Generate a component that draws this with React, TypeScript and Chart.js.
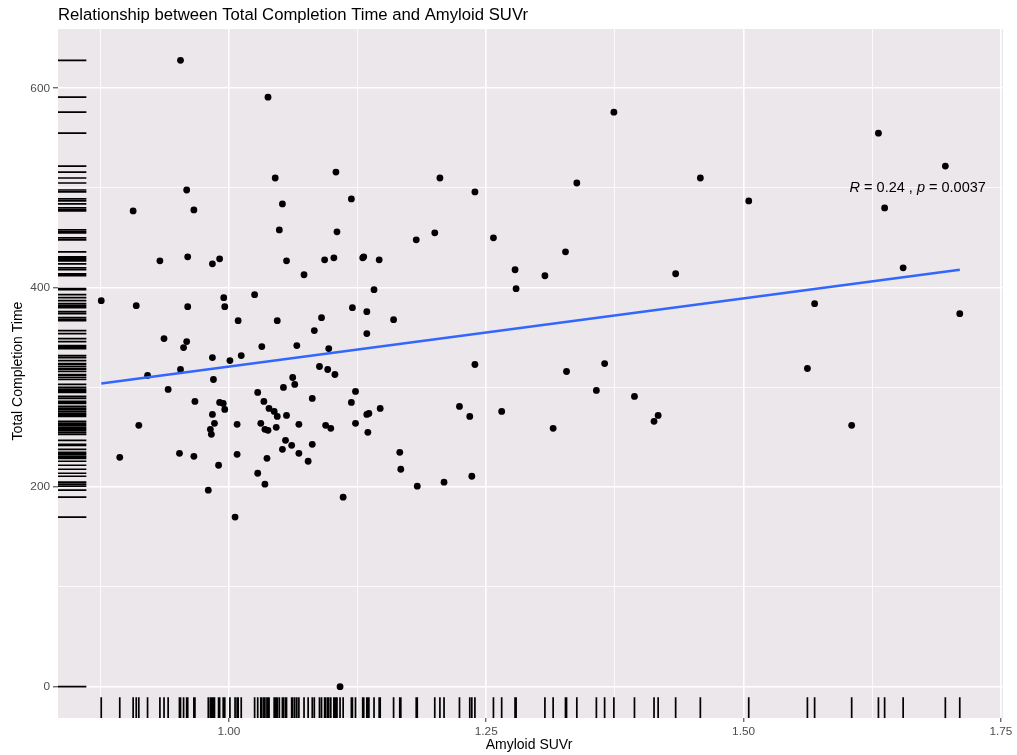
import React, { useEffect, useRef } from 'react';
import { Chart, registerables } from 'chart.js';

Chart.register(...registerables);

// ---- Data ----
const amyloidSUVr: number[] = [
  1.631, 1.696, 1.458, 1.505, 1.637, 1.434, 1.655, 1.569, 1.710, 1.562, 1.417, 1.413, 1.605,
  1.374, 1.205, 1.239, 1.338, 1.182, 1.200, 1.257, 1.146, 1.327, 1.278, 1.307, 1.279, 1.141,
  1.160, 1.239, 1.328, 1.365, 1.357, 1.394, 1.147, 1.224, 1.234, 1.265, 1.315, 1.166, 1.167,
  1.183, 1.209, 1.236,
  0.953, 1.038, 1.045, 1.104, 0.959, 0.907, 0.966, 1.052, 1.119, 1.049, 1.105, 0.933, 0.960,
  0.984, 0.991, 1.056, 1.073, 1.093, 1.102, 1.130, 1.131,
  0.876, 0.910, 0.960, 0.995, 0.996, 1.025, 1.009, 1.047, 1.090, 1.083, 1.120, 1.134, 1.134,
  0.937, 0.959, 0.956, 1.032, 1.066, 1.097, 0.984, 1.001, 1.012, 0.921, 0.953, 0.985, 1.088,
  1.096, 1.103, 1.062, 1.064, 1.053, 0.941, 1.028, 1.081, 1.123, 1.119, 0.967, 0.991, 0.9945,
  0.996, 1.034, 1.039, 1.044, 1.047, 1.056, 1.134, 1.136, 0.984, 0.9125, 0.986, 0.982, 0.983,
  1.008, 1.031, 1.035, 1.038, 1.046, 1.068, 1.094, 1.099, 1.123, 1.135, 1.055, 1.061, 1.052,
  1.081, 1.068, 1.077, 0.894, 0.952, 0.966, 1.008, 1.037, 0.990, 1.028, 1.035, 0.980, 1.111,
  1.006, 1.108,
];

const completionTime: number[] = [
  555, 522, 510, 487, 480, 414, 420, 384, 374, 319, 272, 266, 262,
  576, 510, 496, 505, 448, 455, 450, 428, 436, 418, 412, 399, 398,
  368, 323, 316, 324, 297, 291, 279, 281, 271, 276, 259, 235, 218,
  201, 205, 211,
  628, 591, 510, 516, 498, 477, 478, 484, 489, 458, 456, 427, 431,
  424, 429, 427, 413, 428, 430, 430, 431,
  387, 382, 381, 390, 381, 393, 367, 367, 370, 357, 380, 376, 354,
  349, 346, 340, 341, 342, 339, 330, 327, 332, 312, 318, 308, 321,
  318, 313, 310, 303, 300, 298, 295, 289, 296, 285, 286, 285, 284,
  278, 286, 279, 276, 271, 272, 273, 274, 273, 262, 264, 258, 253,
  263, 264, 258, 257, 260, 263, 262, 259, 264, 255, 247, 242, 238,
  243, 234, 226, 230, 234, 231, 233, 229, 222, 214, 203, 197, 190,
  170, 0,
];

// Fitted regression line (end points)
const fitSUVr: number[] = [0.876, 1.710];
const fitTime: number[] = [304, 418];

// Axis ticks
const xMajorTicks: number[] = [1.0, 1.25, 1.5, 1.75];
const xMinorTicks: number[] = [0.875, 1.125, 1.375, 1.625];
const yMajorTicks: number[] = [0, 200, 400, 600];
const yMinorTicks: number[] = [100, 300, 500];

// Correlation annotation
const corR = '0.24';
const corP = '0.0037';
const corAt: number[] = [1.603, 500];

const chartTitle = 'Relationship between Total Completion Time and Amyloid SUVr';
const xTitle = 'Amyloid SUVr';
const yTitle = 'Total Completion Time';

const FONT = '"Liberation Sans", Arial, Helvetica, sans-serif';
const PANEL_BG = 'rgb(236,231,234)';

const isMajor = (list: number[], v: number) => list.some((m) => Math.abs(m - v) < 1e-9);

const ggDecor = {
  id: 'ggDecor',
  beforeDraw(chart: any) {
    const { ctx, chartArea: a } = chart;
    ctx.save();
    ctx.fillStyle = '#ffffff';
    ctx.fillRect(0, 0, chart.width, chart.height);
    ctx.fillStyle = PANEL_BG;
    ctx.fillRect(a.left, a.top, a.right - a.left, a.bottom - a.top);
    ctx.restore();
  },
  afterDatasetsDraw(chart: any) {
    const { ctx, chartArea: a, scales } = chart;
    const xs = scales.x;
    const ys = scales.y;
    const xLen = 0.03 * (a.bottom - a.top);
    const yLen = 0.03 * (a.right - a.left);
    ctx.save();
    ctx.strokeStyle = '#000000';
    ctx.lineWidth = 1.7;
    ctx.beginPath();
    amyloidSUVr.forEach((v) => {
      const px = xs.getPixelForValue(v);
      ctx.moveTo(px, a.bottom);
      ctx.lineTo(px, a.bottom - xLen);
    });
    completionTime.forEach((v) => {
      const py = ys.getPixelForValue(v);
      ctx.moveTo(a.left, py);
      ctx.lineTo(a.left + yLen, py);
    });
    ctx.stroke();

    // correlation label
    const lx = xs.getPixelForValue(corAt[0]);
    const ly = ys.getPixelForValue(corAt[1]);
    const parts: [string, boolean][] = [
      ['R', true],
      [' = ' + corR + ' , ', false],
      ['p', true],
      [' = ' + corP, false],
    ];
    ctx.fillStyle = '#000000';
    ctx.textBaseline = 'middle';
    ctx.textAlign = 'left';
    let cx = lx;
    parts.forEach(([t, it]) => {
      ctx.font = (it ? 'italic ' : '') + '14.5px ' + FONT;
      ctx.fillText(t, cx, ly);
      cx += ctx.measureText(t).width;
    });
    ctx.restore();
  },
  afterDraw(chart: any) {
    const { ctx, chartArea: a } = chart;
    ctx.save();
    ctx.fillStyle = '#000000';
    ctx.textAlign = 'left';
    ctx.textBaseline = 'alphabetic';
    ctx.font = '16.7px ' + FONT;
    ctx.fillText(chartTitle, a.left, 19.5);

    ctx.font = '14px ' + FONT;
    ctx.textAlign = 'center';
    ctx.textBaseline = 'middle';
    ctx.fillText(xTitle, (a.left + a.right) / 2 - 1.5, 745);

    ctx.translate(18.5, (a.top + a.bottom) / 2 - 2.5);
    ctx.rotate(-Math.PI / 2);
    ctx.fillText(yTitle, 0, 0);
    ctx.restore();
  },
};

export default function App() {
  const canvasRef = useRef<HTMLCanvasElement | null>(null);

  useEffect(() => {
    document.body.style.margin = '0';
    const canvas = canvasRef.current;
    if (!canvas) return;

    const xMin = 0.834;
    const xMax = 1.752;
    const yMin = -31.4;
    const yMax = 659.4;

    const chart = new Chart(canvas, {
      type: 'scatter',
      data: {
        datasets: [
          {
            label: 'fit',
            data: fitSUVr.map((x, i) => ({ x, y: fitTime[i] })),
            showLine: true,
            borderColor: '#3366FF',
            borderWidth: 2.4,
            pointRadius: 0,
            pointHoverRadius: 0,
            fill: false,
          },
          {
            label: 'subjects',
            data: amyloidSUVr.map((x, i) => ({ x, y: completionTime[i] })),
            backgroundColor: '#000000',
            borderWidth: 0,
            pointRadius: 3.4,
            pointHoverRadius: 3.4,
          },
        ],
      },
      options: {
        responsive: false,
        animation: false,
        events: [],
        layout: { padding: { top: 29, right: 14, bottom: 0, left: 0 } },
        plugins: {
          legend: { display: false },
          title: { display: false },
          tooltip: { enabled: false },
        },
        scales: {
          x: {
            type: 'linear',
            min: xMin,
            max: xMax,
            afterFit: (s: any) => {
              s.height = 37;
            },
            afterBuildTicks: (s: any) => {
              s.ticks = [...xMinorTicks, ...xMajorTicks]
                .sort((p, q) => p - q)
                .map((v) => ({ value: v }));
            },
            border: { display: false },
            grid: {
              color: '#ffffff',
              lineWidth: (c: any) => (c.tick && isMajor(xMajorTicks, c.tick.value) ? 1.6 : 0.8),
              tickColor: (c: any) =>
                c.tick && isMajor(xMajorTicks, c.tick.value) ? '#333333' : 'rgba(0,0,0,0)',
              tickLength: 4,
              tickWidth: 1,
            },
            ticks: {
              autoSkip: false,
              maxRotation: 0,
              padding: 3,
              color: '#4D4D4D',
              font: { family: FONT, size: 11.8 },
              callback: (v: any) => (isMajor(xMajorTicks, Number(v)) ? Number(v).toFixed(2) : ''),
            },
          },
          y: {
            type: 'linear',
            min: yMin,
            max: yMax,
            afterFit: (s: any) => {
              s.width = 58;
            },
            afterBuildTicks: (s: any) => {
              s.ticks = [...yMinorTicks, ...yMajorTicks]
                .sort((p, q) => p - q)
                .map((v) => ({ value: v }));
            },
            border: { display: false },
            grid: {
              color: '#ffffff',
              lineWidth: (c: any) => (c.tick && isMajor(yMajorTicks, c.tick.value) ? 1.6 : 0.8),
              tickColor: (c: any) =>
                c.tick && isMajor(yMajorTicks, c.tick.value) ? '#333333' : 'rgba(0,0,0,0)',
              tickLength: 5,
              tickWidth: 1,
            },
            ticks: {
              autoSkip: false,
              padding: 3,
              color: '#4D4D4D',
              font: { family: FONT, size: 11.8 },
              callback: (v: any) => (isMajor(yMajorTicks, Number(v)) ? String(v) : ''),
            },
          },
        },
      },
      plugins: [ggDecor],
    } as any);

    return () => {
      chart.destroy();
    };
  }, []);

  return (
    <div style={{ width: 1017, height: 755, overflow: 'hidden' }}>
      <canvas ref={canvasRef} width={1017} height={755} style={{ display: 'block' }} />
    </div>
  );
}
